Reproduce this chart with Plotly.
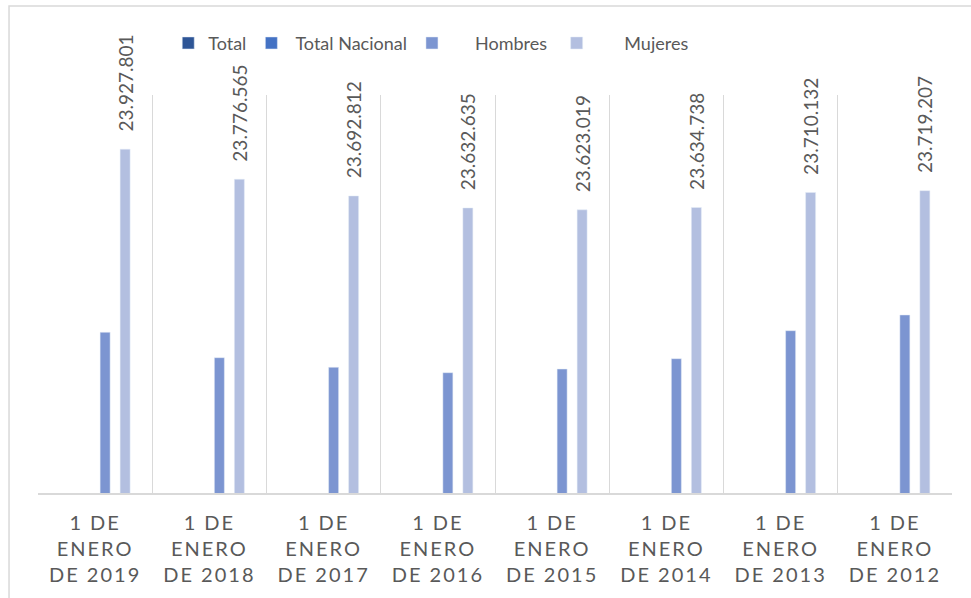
import plotly.graph_objects as go

categorias = ["1 DE<br>ENERO<br>DE 2019", "1 DE<br>ENERO<br>DE 2018", "1 DE<br>ENERO<br>DE 2017",
              "1 DE<br>ENERO<br>DE 2016", "1 DE<br>ENERO<br>DE 2015", "1 DE<br>ENERO<br>DE 2014",
              "1 DE<br>ENERO<br>DE 2013", "1 DE<br>ENERO<br>DE 2012"]
total = [None] * 8
total_nacional = [None] * 8
hombres = [23007500, 22880000, 22831600, 22804500, 22823000, 22875000, 23015600, 23094500]
mujeres = [23927801, 23776565, 23692812, 23632635, 23623019, 23634738, 23710132, 23719207]

y_min, y_max = 22200000, 24200000

FONT = "Lato"
GREY = "#595959"
NB = "\u00a0"

fig = go.Figure()
fig.add_trace(go.Bar(name="Total", x=categorias, y=total, marker_color="#2E5596"))
fig.add_trace(go.Bar(name=NB * 1 + "Total Nacional", x=categorias, y=total_nacional,
                     marker_color="#4472C4"))
fig.add_trace(go.Bar(name=NB * 5 + "Hombres" + NB * 1, x=categorias, y=hombres, marker_color="#7C95D1"))
fig.add_trace(go.Bar(name=NB * 6 + "Mujeres", x=categorias, y=mujeres, marker_color="#B3BFE0",
                     texttemplate=NB * 3 + "%{y:,.0f}", textposition="outside", textangle=-90,
                     constraintext="none", cliponaxis=False,
                     textfont=dict(family=FONT, size=19, color=GREY)))

fig.update_layout(
    width=971, height=598, autosize=False,
    margin=dict(l=38, r=19, t=95, b=105),
    paper_bgcolor="white", plot_bgcolor="white",
    barmode="group", bargap=0.30, bargroupgap=0.5,
    separators=",.",
    font=dict(family=FONT, size=18, color=GREY),
    showlegend=True,
    legend=dict(orientation="h", x=0.1425, xanchor="left", y=1.13, yanchor="middle",
                font=dict(family=FONT, size=18, color=GREY), traceorder="normal",
                bgcolor="rgba(0,0,0,0)"),
    xaxis=dict(showgrid=True, gridcolor="#D9D9D9", gridwidth=1, tickson="boundaries",
               showline=True, linecolor="#D9D9D9", linewidth=1.5, ticks="",
               tickfont=dict(family=FONT, size=20, color=GREY), ticklabelstandoff=11),
    yaxis=dict(visible=False, range=[y_min, y_max], showgrid=False, zeroline=False),
    shapes=[dict(type="rect", xref="paper", yref="paper", x0=-0.0317, x1=1.2, y0=-0.5, y1=1.2236,
                 line=dict(color="#D9D9D9", width=1.5), fillcolor="rgba(0,0,0,0)", layer="below")],
)

post = ("document.body.style.margin='0';"
        "document.querySelectorAll('.xtick text').forEach(function(t){t.style.letterSpacing='2px';"
        "t.querySelectorAll('tspan').forEach(function(s){s.style.letterSpacing='2px';});});")
fig.write_html("out.html", post_script=post, config={"displayModeBar": False})
